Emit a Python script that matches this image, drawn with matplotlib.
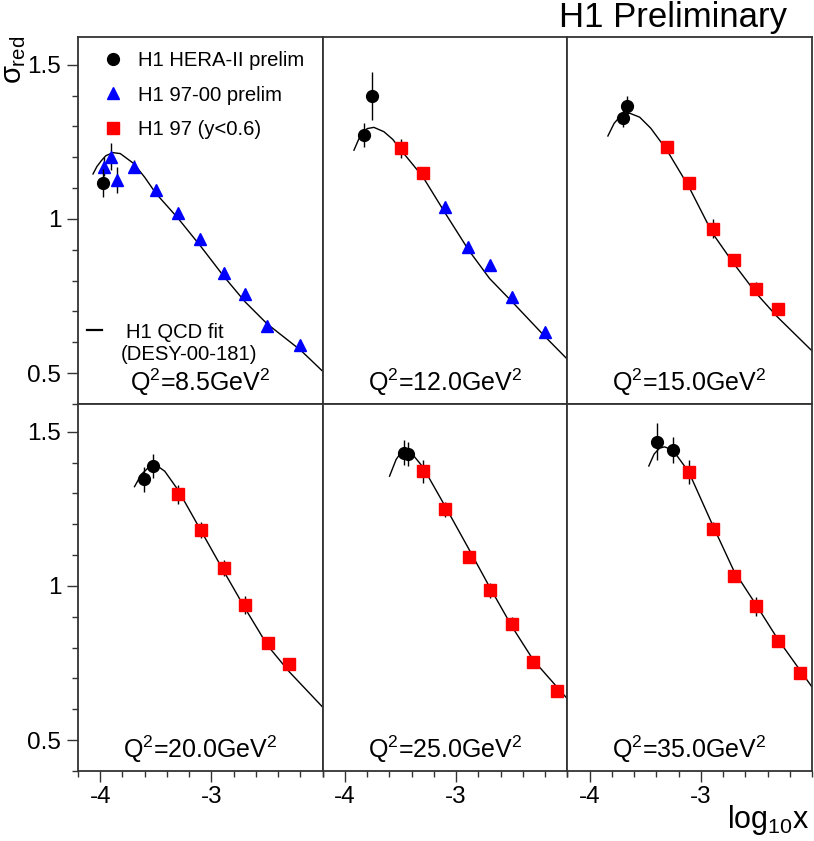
import matplotlib
matplotlib.use("Agg")
import matplotlib.pyplot as plt
from matplotlib.lines import Line2D
from matplotlib.ticker import MultipleLocator, NullLocator

plt.rcParams["font.family"] = ["Liberation Sans", "DejaVu Sans"]
plt.rcParams["mathtext.fontset"] = "custom"
plt.rcParams["mathtext.rm"] = "Liberation Sans"
plt.rcParams["mathtext.it"] = "Liberation Sans"
plt.rcParams["mathtext.bf"] = "Liberation Sans"
plt.rcParams["mathtext.sf"] = "Liberation Sans"

# -- data (one entry per Q^2 bin) ---------------------------------------------
q2_labels = ["8.5", "12.0", "15.0", "20.0", "25.0", "35.0"]

# H1 HERA-II prelim (black circles)
hera_x = [[-3.976], [-3.83, -3.754], [-3.70, -3.665],
          [-3.608, -3.525], [-3.471, -3.435], [-3.393, -3.253]]
hera_y = [[1.116], [1.272, 1.399], [1.327, 1.365],
          [1.346, 1.389], [1.432, 1.428], [1.468, 1.441]]
hera_err = [[0.046], [0.039, 0.077], [0.03, 0.035],
            [0.04, 0.038], [0.04, 0.04], [0.06, 0.043]]

# H1 97-00 prelim (blue triangles)
tri_x = [[-3.97, -3.90, -3.85, -3.70, -3.50, -3.30, -3.10, -2.89, -2.70, -2.50, -2.20],
         [-3.10, -2.89, -2.70, -2.50, -2.20], [], [], [], []]
tri_y = [[1.170, 1.202, 1.126, 1.170, 1.094, 1.018, 0.934, 0.826, 0.758, 0.653, 0.592],
         [1.039, 0.910, 0.850, 0.747, 0.633], [], [], [], []]
tri_err = [[0.03, 0.043, 0.043, 0.02, 0.015, 0.015, 0.015, 0.015, 0.015, 0.015, 0.015],
           [0.015, 0.015, 0.015, 0.015, 0.015], [], [], [], []]

# H1 97 (y<0.6) (red squares)
sq_x = [[], [-3.50, -3.30],
        [-3.307, -3.109, -2.894, -2.706, -2.50, -2.311],
        [-3.30, -3.097, -2.885, -2.697, -2.496, -2.299],
        [-3.30, -3.097, -2.888, -2.70, -2.496, -2.305, -2.095],
        [-3.109, -2.894, -2.706, -2.50, -2.311, -2.108]]
sq_y = [[], [1.229, 1.150],
        [1.234, 1.117, 0.969, 0.866, 0.774, 0.709],
        [1.297, 1.181, 1.058, 0.938, 0.816, 0.746],
        [1.372, 1.248, 1.094, 0.986, 0.878, 0.753, 0.661],
        [1.370, 1.186, 1.032, 0.934, 0.821, 0.718]]
sq_err = [[], [0.03, 0.02],
          [0.02, 0.02, 0.03, 0.02, 0.02, 0.015],
          [0.03, 0.025, 0.025, 0.03, 0.02, 0.015],
          [0.038, 0.025, 0.02, 0.025, 0.02, 0.02, 0.015],
          [0.038, 0.02, 0.02, 0.03, 0.02, 0.015]]

# H1 QCD fit (DESY-00-181)
fit_x = [[-4.065, -4.03, -3.99, -3.95, -3.886, -3.82, -3.70, -3.60, -3.50, -3.30, -3.094, -2.885, -2.697, -2.50, -2.197, -2.0],
         [-3.919, -3.86, -3.80, -3.74, -3.65, -3.57, -3.498, -3.30, -3.097, -2.888, -2.70, -2.496, -2.197, -2.0],
         [-3.836, -3.78, -3.72, -3.641, -3.55, -3.45, -3.307, -3.109, -2.894, -2.706, -2.50, -2.311, -2.0],
         [-3.692, -3.63, -3.56, -3.498, -3.42, -3.30, -3.097, -2.885, -2.697, -2.496, -2.299, -2.0],
         [-3.599, -3.54, -3.49, -3.456, -3.40, -3.30, -3.097, -2.888, -2.70, -2.496, -2.305, -2.0],
         [-3.468, -3.42, -3.37, -3.327, -3.253, -3.109, -2.894, -2.706, -2.50, -2.311, -2.0]]
fit_y = [[1.146, 1.170, 1.189, 1.205, 1.215, 1.212, 1.180, 1.135, 1.083, 1.002, 0.910, 0.812, 0.731, 0.660, 0.574, 0.506],
         [1.223, 1.272, 1.293, 1.297, 1.283, 1.258, 1.224, 1.137, 1.018, 0.899, 0.807, 0.731, 0.617, 0.545],
         [1.269, 1.310, 1.335, 1.343, 1.330, 1.294, 1.224, 1.105, 0.953, 0.856, 0.758, 0.682, 0.572],
         [1.322, 1.362, 1.386, 1.392, 1.372, 1.311, 1.181, 1.045, 0.927, 0.807, 0.721, 0.607],
         [1.356, 1.410, 1.436, 1.441, 1.430, 1.386, 1.257, 1.121, 0.997, 0.867, 0.759, 0.634],
         [1.389, 1.428, 1.447, 1.451, 1.441, 1.370, 1.197, 1.051, 0.937, 0.829, 0.672]]

# -- figure -------------------------------------------------------------------
W, H = 814, 841
fig = plt.figure(figsize=(W / 100, H / 100), dpi=100)

left_px, top_px = 78, 37
pw, ph = 244.7, 367
frame_col = "#333333"

axes = []
for i in range(6):
    row, col = divmod(i, 3)
    x0 = (left_px + col * pw) / W
    y0 = 1 - (top_px + (row + 1) * ph) / H
    ax = fig.add_axes([x0, y0, pw / W, ph / H])
    axes.append(ax)

    ax.plot(fit_x[i], fit_y[i], color="black", lw=1.0, zorder=2)
    if tri_x[i]:
        ax.errorbar(tri_x[i], tri_y[i], yerr=tri_err[i], fmt="^", color="blue",
                    ecolor="black", elinewidth=1.0, ms=9, mec="blue", zorder=3)
    if sq_x[i]:
        ax.errorbar(sq_x[i], sq_y[i], yerr=sq_err[i], fmt="s", color="red",
                    ecolor="black", elinewidth=1.0, ms=8.5, mec="red", zorder=3)
    ax.errorbar(hera_x[i], hera_y[i], yerr=hera_err[i], fmt="o", color="black",
                ecolor="black", elinewidth=1.0, ms=8.5, zorder=4)

    ax.set_xlim(-4.2, -2.0)
    ax.set_ylim(0.4, 1.59)
    for s in ax.spines.values():
        s.set_color(frame_col)
        s.set_linewidth(1.3)

    ax.xaxis.set_major_locator(MultipleLocator(1.0))
    ax.xaxis.set_minor_locator(MultipleLocator(0.2))
    ax.yaxis.set_major_locator(MultipleLocator(0.5))
    ax.yaxis.set_minor_locator(MultipleLocator(0.1))
    ax.tick_params(which="both", direction="out", color=frame_col, width=1.0,
                   labelsize=17.5, top=False, right=False)
    ax.tick_params(which="major", length=8)
    ax.tick_params(which="minor", length=4.5)
    ax.tick_params(axis="x", pad=3)
    ax.tick_params(axis="y", pad=4)
    ax.set_xticks([-4, -3])
    ax.set_xticklabels(["-4", "-3"])
    ax.set_yticks([0.5, 1.0, 1.5])
    ax.set_yticklabels(["0.5", "1", "1.5"])

    if row == 0:
        ax.xaxis.set_major_locator(NullLocator())
        ax.xaxis.set_minor_locator(NullLocator())
    if col != 0:
        ax.yaxis.set_major_locator(NullLocator())
        ax.yaxis.set_minor_locator(NullLocator())

    ax.text(0.5, 0.035, r"Q$^{2}$=" + q2_labels[i] + r"GeV$^{2}$",
            transform=ax.transAxes, ha="center", va="baseline", fontsize=18)

# legends in the first panel
ax = axes[0]
h_hera = Line2D([], [], ls="none", marker="o", color="black", ms=8.5)
h_tri = Line2D([], [], ls="none", marker="^", color="blue", ms=8)
h_sq = Line2D([], [], ls="none", marker="s", color="red", ms=8)
leg1 = ax.legend([h_hera, h_tri, h_sq],
                 ["H1 HERA-II prelim", "H1 97-00 prelim", "H1 97 (y<0.6)"],
                 loc="upper left", bbox_to_anchor=(0.10, 0.962), frameon=False,
                 fontsize=14.6, handlelength=1.0, handletextpad=0.75,
                 labelspacing=0.77, borderpad=0, borderaxespad=0)
ax.add_artist(leg1)
h_fit = Line2D([], [], color="black", lw=1.6)
ax.legend([h_fit], ["H1 QCD fit"], loc="upper left",
          bbox_to_anchor=(0.035, 0.222), frameon=False, fontsize=14.6,
          handlelength=0.75, handletextpad=1.2, borderpad=0, borderaxespad=0)
ax.text(0.175, 0.135, "(DESY-00-181)", transform=ax.transAxes,
        ha="left", va="center", fontsize=14.6)

fig.text(787 / W, 1 - 27 / H, "H1 Preliminary", ha="right", va="baseline",
         fontsize=25)
fig.text(810 / W, 1 - 828 / H, r"log$_{10}$x", ha="right", va="baseline",
         fontsize=22)
fig.text(0 / W, 1 - 36 / H, r"$\sigma_{\rm red}$", rotation=90, ha="left",
         va="top", fontsize=21)

fig.savefig("out.png", dpi=100)
